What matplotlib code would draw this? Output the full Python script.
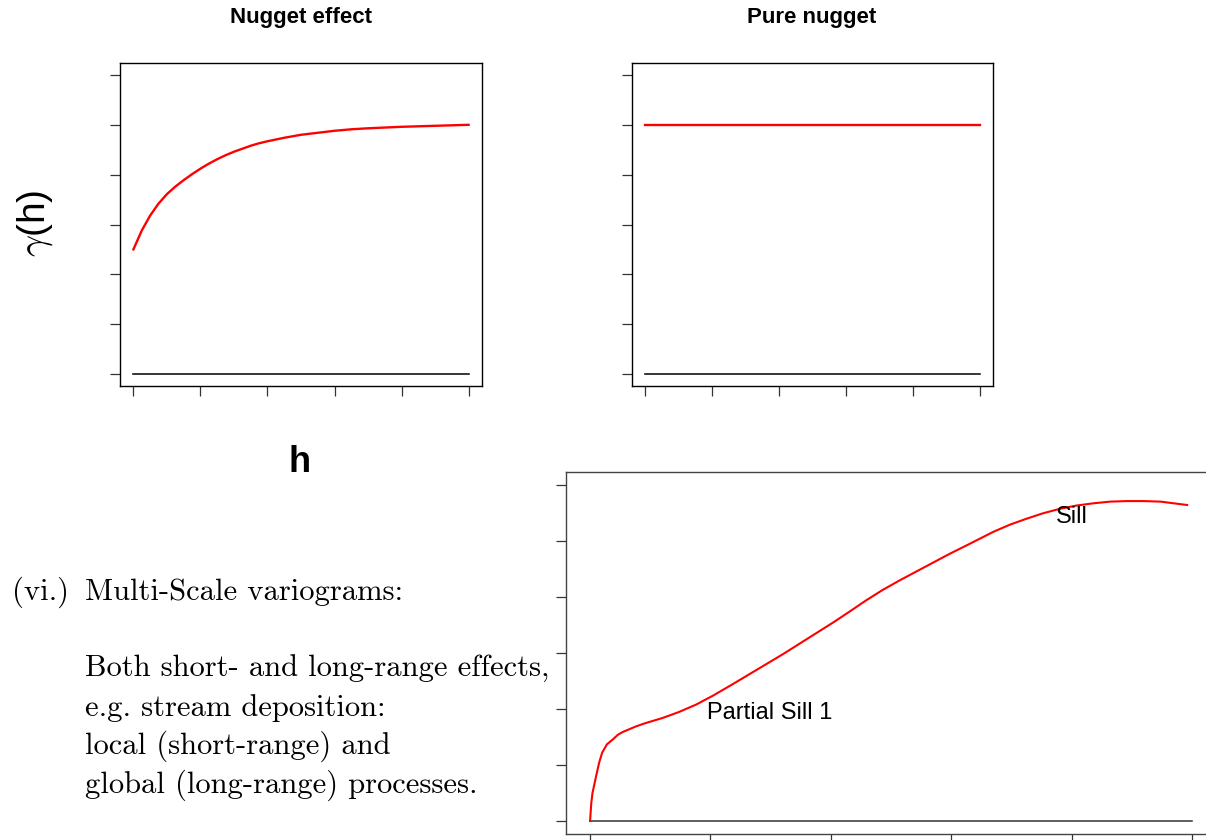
import matplotlib
matplotlib.use('Agg')
import matplotlib.pyplot as plt

plt.rcParams['font.family'] = ['Liberation Sans', 'DejaVu Sans']
plt.rcParams['mathtext.fontset'] = 'cm'

# values
h_nug = [0, 0.125, 0.25, 0.375, 0.5, 0.625, 0.75, 0.875, 1.0, 1.125, 1.25, 1.375, 1.5,
         1.625, 1.75, 1.875, 2.0, 2.25, 2.5, 2.75, 3.0, 3.25, 3.5, 4.0, 4.5, 5.0]
g_nug = [2.50, 2.88, 3.18, 3.42, 3.61, 3.76, 3.89, 4.01, 4.12, 4.22, 4.31, 4.39, 4.46,
         4.52, 4.58, 4.63, 4.67, 4.74, 4.80, 4.84, 4.88, 4.91, 4.93, 4.96, 4.98, 5.00]

h_pure = [0, 5]
g_pure = [5, 5]

h_base = [0, 5]
g_base = [0, 0]

h_ms = [0, 0.01, 0.02, 0.05, 0.075, 0.10, 0.14, 0.19, 0.23, 0.27, 0.38, 0.46, 0.60, 0.74,
        0.88, 1.02, 1.18, 1.32, 1.46, 1.60, 1.74, 1.88, 2.02, 2.16, 2.29, 2.43, 2.57, 2.71,
        2.85, 2.99, 3.13, 3.24, 3.35, 3.49, 3.62, 3.76, 3.90, 4.04, 4.18, 4.32, 4.46, 4.60,
        4.74, 4.85, 4.96]
g_ms = [0, 0.32, 0.50, 0.80, 1.04, 1.22, 1.37, 1.46, 1.54, 1.59, 1.69, 1.75, 1.84, 1.95,
        2.08, 2.24, 2.44, 2.62, 2.80, 2.98, 3.17, 3.36, 3.55, 3.75, 3.94, 4.13, 4.30, 4.46,
        4.62, 4.78, 4.93, 5.05, 5.17, 5.30, 5.40, 5.50, 5.58, 5.64, 5.68, 5.71, 5.72, 5.72,
        5.71, 5.68, 5.65]

x_ticks = [0, 1, 2, 3, 4, 5]
y_ticks = [0, 1, 2, 3, 4, 5, 6]

titles = ['Nugget effect', 'Pure nugget']
body = ['Both short- and long-range effects,',
        'e.g. stream deposition:',
        'local (short-range) and',
        'global (long-range) processes.']

W, H = 1206, 840
fig = plt.figure(figsize=(W / 100, H / 100), dpi=100)


def px(x, y):
    # pixel position (from top-left) -> figure fraction
    return x / W, 1 - y / H


def panel(rect):
    ax = fig.add_axes(rect)
    ax.set_xlim(-0.2, 5.2)
    ax.set_ylim(-0.24, 6.24)
    ax.set_xticks(x_ticks)
    ax.set_yticks(y_ticks)
    ax.set_xticklabels([])
    ax.set_yticklabels([])
    ax.tick_params(direction='out', length=7.2, width=0.9, color='#333333')
    for s in ax.spines.values():
        s.set_linewidth(1.0)
    return ax


ax1 = panel([120 / W, 1 - 386 / H, 362 / W, 323 / H])
ax1.plot(h_base, g_base, color='black', lw=1.1)
ax1.plot(h_nug, g_nug, color='red', lw=1.7, solid_joinstyle='round')

ax2 = panel([632 / W, 1 - 386 / H, 361 / W, 323 / H])
ax2.plot(h_base, g_base, color='black', lw=1.1)
ax2.plot(h_pure, g_pure, color='red', lw=1.7)

ax3 = panel([566 / W, 1 - 834.4 / H, 650 / W, 362.4 / H])
for s in ax3.spines.values():
    s.set_color('#444444')
ax3.plot(h_base, g_base, color='#333333', lw=1.1)
ax3.plot(h_ms, g_ms, color='red', lw=1.5, solid_joinstyle='round')
ax3.text(0.97, 1.83, 'Partial Sill 1', fontsize=17, va='baseline', ha='left')
ax3.text(3.87, 5.33, 'Sill', fontsize=17, va='baseline', ha='left')

fig.text(*px(301, 18), titles[0], fontsize=16, fontweight='bold', ha='center', va='center')
fig.text(*px(812, 18), titles[1], fontsize=16, fontweight='bold', ha='center', va='center')
fig.text(*px(300, 462), 'h', fontsize=26, fontweight='bold', ha='center', va='center')
fig.text(*px(35, 223), r'$\gamma$(h)', fontsize=28, rotation=90, ha='center', va='center')

fig.text(*px(12, 600), '(vi.)', family='cmr10', fontsize=22, va='baseline')
fig.text(*px(85, 600), 'Multi-Scale variograms:', family='cmr10', fontsize=22, va='baseline')
for i, line in enumerate(body):
    fig.text(*px(85, 677 + i * 38.5), line, family='cmr10', fontsize=22, va='baseline')

fig.savefig('out.png', dpi=100)
